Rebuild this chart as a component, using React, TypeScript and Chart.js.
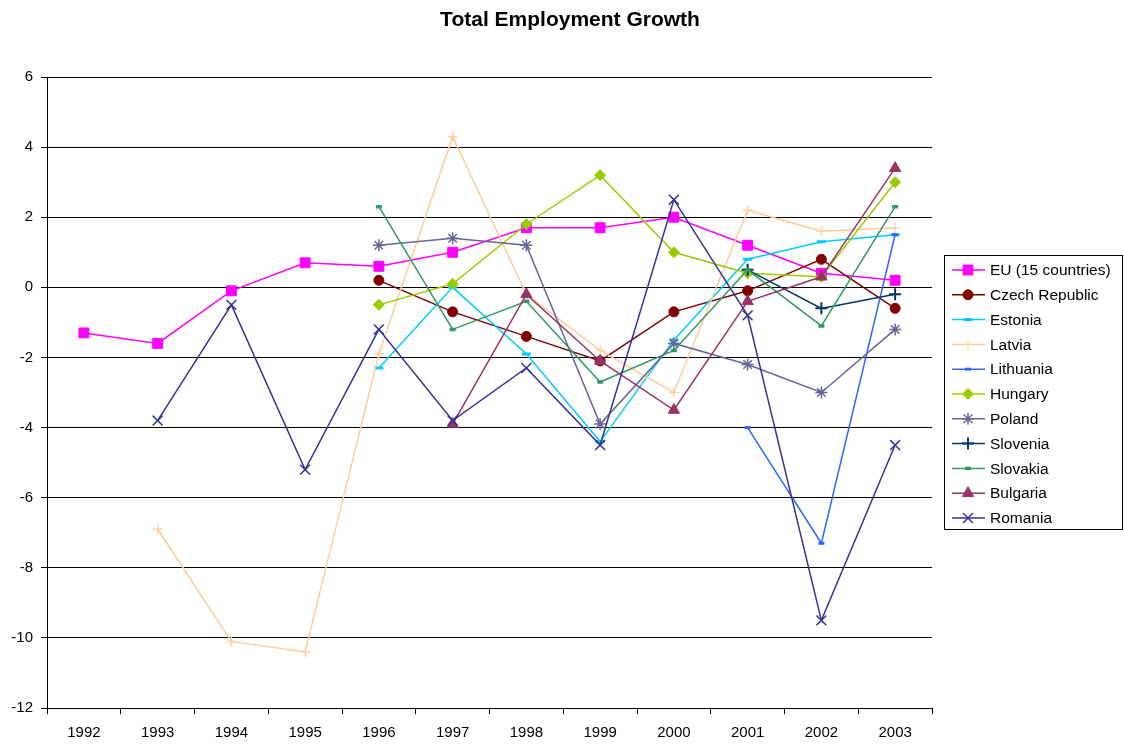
import React, { useEffect, useRef } from 'react';
import { Chart, registerables } from 'chart.js';
import { drawPoint } from 'chart.js/helpers';

Chart.register(...registerables);

const years = ['1992', '1993', '1994', '1995', '1996', '1997', '1998', '1999', '2000', '2001', '2002', '2003'];

const eu15 = [-1.3, -1.6, -0.1, 0.7, 0.6, 1.0, 1.7, 1.7, 2.0, 1.2, 0.4, 0.2];
const czech = [null, null, null, null, 0.2, -0.7, -1.4, -2.1, -0.7, -0.1, 0.8, -0.6];
const estonia = [null, null, null, null, -2.3, 0.0, -1.9, -4.4, -1.5, 0.8, 1.3, 1.5];
const latvia = [null, -6.9, -10.1, -10.4, -1.9, 4.3, -0.2, -1.8, -3.0, 2.2, 1.6, 1.7];
const lithuania = [null, null, null, null, null, null, null, null, null, -4.0, -7.3, 1.5];
const hungary = [null, null, null, null, -0.5, 0.1, 1.8, 3.2, 1.0, 0.4, 0.3, 3.0];
const poland = [null, null, null, null, 1.2, 1.4, 1.2, -3.9, -1.6, -2.2, -3.0, -1.2];
const slovenia = [null, null, null, null, null, null, null, null, null, 0.5, -0.6, -0.2];
const slovakia = [null, null, null, null, 2.3, -1.2, -0.4, -2.7, -1.8, 0.5, -1.1, 2.3];
const bulgaria = [null, null, null, null, null, -3.9, -0.2, -2.1, -3.5, -0.4, 0.3, 3.4];
const romania = [null, -3.8, -0.5, -5.2, -1.2, -3.8, -2.3, -4.5, 2.5, -0.8, -9.5, -4.5];

const yTicks = [6, 4, 2, 0, -2, -4, -6, -8, -10, -12];

const FONT = '"Liberation Sans", Arial, sans-serif';

type SeriesDef = {
  label: string;
  data: (number | null)[];
  color: string;
  style: string;
  radius: number;
  pbw: number;
};

const series: SeriesDef[] = [
  { label: 'EU (15 countries)', data: eu15, color: '#FF00FF', style: 'rect', radius: 7, pbw: 1 },
  { label: 'Czech Republic', data: czech, color: '#800000', style: 'circle', radius: 5, pbw: 1 },
  { label: 'Estonia', data: estonia, color: '#00CCFF', style: 'line', radius: 4.5, pbw: 3 },
  { label: 'Latvia', data: latvia, color: '#FFCC99', style: 'cross', radius: 5, pbw: 1.2 },
  { label: 'Lithuania', data: lithuania, color: '#3366FF', style: 'line', radius: 3, pbw: 3 },
  { label: 'Hungary', data: hungary, color: '#99CC00', style: 'rectRot', radius: 5.5, pbw: 1 },
  { label: 'Poland', data: poland, color: '#666699', style: 'star', radius: 6, pbw: 1.5 },
  { label: 'Slovenia', data: slovenia, color: '#003366', style: 'cross', radius: 6, pbw: 2 },
  { label: 'Slovakia', data: slovakia, color: '#339966', style: 'line', radius: 3, pbw: 3.5 },
  { label: 'Bulgaria', data: bulgaria, color: '#993366', style: 'triangle', radius: 6.5, pbw: 1 },
  { label: 'Romania', data: romania, color: '#333399', style: 'crossRot', radius: 7, pbw: 1.5 },
];

const titlePlugin = {
  id: 'excelTitle',
  afterDraw(chart: any) {
    const ctx = chart.ctx;
    ctx.save();
    ctx.fillStyle = '#000';
    ctx.font = `bold 21px ${FONT}`;
    ctx.textAlign = 'center';
    ctx.textBaseline = 'alphabetic';
    ctx.fillText('Total Employment Growth', 570, 26);
    ctx.restore();
  },
};

const legendPlugin = {
  id: 'excelLegend',
  afterDraw(chart: any) {
    const ctx = chart.ctx;
    ctx.save();
    ctx.strokeStyle = '#000';
    ctx.lineWidth = 1;
    ctx.strokeRect(944.5, 255.5, 178, 274);
    chart.data.datasets.forEach((ds: any, i: number) => {
      const y = 270 + i * 24.8;
      ctx.strokeStyle = ds.borderColor;
      ctx.lineWidth = ds.borderWidth;
      ctx.beginPath();
      ctx.moveTo(952, y);
      ctx.lineTo(985, y);
      ctx.stroke();
      ctx.fillStyle = ds.pointBackgroundColor;
      ctx.strokeStyle = ds.pointBorderColor;
      ctx.lineWidth = ds.pointBorderWidth;
      drawPoint(
        ctx,
        { pointStyle: ds.pointStyle, radius: ds.pointRadius, rotation: 0, borderWidth: ds.pointBorderWidth } as any,
        968,
        y
      );
      ctx.fillStyle = '#000';
      ctx.font = `15.5px ${FONT}`;
      ctx.textAlign = 'left';
      ctx.textBaseline = 'middle';
      ctx.fillText(ds.label, 990, y + 1);
    });
    ctx.restore();
  },
};

export default function App() {
  const ref = useRef<HTMLCanvasElement | null>(null);

  useEffect(() => {
    if (!ref.current) return;
    const chart = new Chart(ref.current, {
      type: 'line',
      data: {
        labels: years,
        datasets: series.map((s, i) => ({
          label: s.label,
          data: s.data,
          borderColor: s.color,
          backgroundColor: s.color,
          borderWidth: 1.5,
          pointStyle: s.style as any,
          pointRadius: s.radius,
          pointHoverRadius: s.radius,
          pointBackgroundColor: s.color,
          pointBorderColor: s.color,
          pointBorderWidth: s.pbw,
          tension: 0,
          spanGaps: false,
          fill: false,
          order: series.length - i,
        })),
      },
      options: {
        responsive: false,
        animation: false,
        devicePixelRatio: 1,
        layout: { padding: { top: 77, right: 192, bottom: 0, left: 0 } },
        plugins: {
          legend: { display: false },
          title: { display: false },
          tooltip: { enabled: false },
        },
        scales: {
          x: {
            type: 'category',
            offset: true,
            grid: {
              offset: true,
              drawOnChartArea: false,
              drawTicks: true,
              tickLength: 6,
              color: '#000',
              lineWidth: 1,
            },
            border: { color: '#000', width: 1 },
            ticks: {
              color: '#000',
              font: { family: FONT, size: 15 },
              padding: 10,
              maxRotation: 0,
              autoSkip: false,
            },
            afterFit(scale: any) {
              scale.height = 39;
            },
          },
          y: {
            type: 'linear',
            min: -12,
            max: 6,
            afterBuildTicks(scale: any) {
              scale.ticks = yTicks.map((v) => ({ value: v }));
            },
            grid: {
              drawOnChartArea: true,
              drawTicks: true,
              tickLength: 6,
              color: '#000',
              lineWidth: 1,
            },
            border: { color: '#000', width: 1 },
            ticks: {
              color: '#000',
              font: { family: FONT, size: 15 },
              padding: 8,
            },
            afterFit(scale: any) {
              scale.width = 47;
            },
          },
        },
      },
      plugins: [titlePlugin, legendPlugin],
    });
    return () => chart.destroy();
  }, []);

  return (
    <canvas
      ref={ref}
      width={1124}
      height={747}
      style={{ position: 'absolute', left: 0, top: 0, width: 1124, height: 747 }}
    />
  );
}
